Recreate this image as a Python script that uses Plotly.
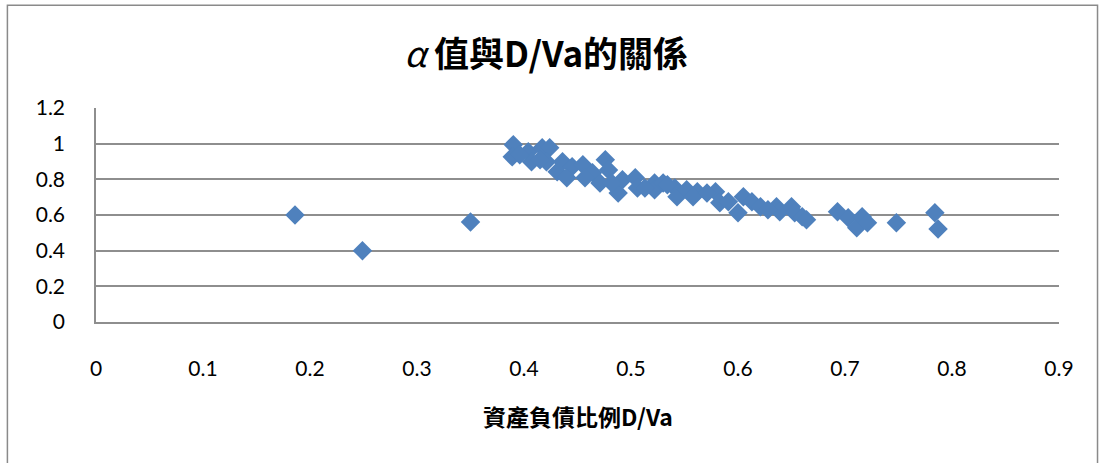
import plotly.graph_objects as go

# Debt ratio D/Va versus alpha
debt_ratio = [
    0.186, 0.249, 0.350, 0.390, 0.389, 0.404, 0.417, 0.424, 0.407, 0.421,
    0.431, 0.436, 0.445, 0.455, 0.464, 0.476, 0.479, 0.471, 0.488, 0.492,
    0.504, 0.506, 0.522, 0.522, 0.530, 0.541, 0.543, 0.552, 0.562, 0.558,
    0.579, 0.583, 0.591, 0.600, 0.605, 0.613, 0.621, 0.636, 0.639, 0.650,
    0.653, 0.660, 0.664, 0.693, 0.703, 0.711, 0.716, 0.721, 0.748, 0.784,
    0.787, 0.396, 0.415, 0.440, 0.457, 0.482, 0.513, 0.534, 0.571, 0.628,
]
alpha = [
    0.600, 0.400, 0.561, 0.994, 0.926, 0.955, 0.977, 0.977, 0.899, 0.899,
    0.842, 0.899, 0.870, 0.882, 0.837, 0.910, 0.853, 0.780, 0.724, 0.797,
    0.809, 0.752, 0.780, 0.741, 0.780, 0.752, 0.702, 0.741, 0.730, 0.702,
    0.730, 0.668, 0.674, 0.612, 0.702, 0.674, 0.646, 0.646, 0.618, 0.646,
    0.612, 0.590, 0.573, 0.618, 0.584, 0.528, 0.590, 0.556, 0.556, 0.612,
    0.522, 0.938, 0.910, 0.809, 0.809, 0.780, 0.752, 0.769, 0.724, 0.629,
]

x_ticks = [0, 0.1, 0.2, 0.3, 0.4, 0.5, 0.6, 0.7, 0.8, 0.9]
y_ticks = [0, 0.2, 0.4, 0.6, 0.8, 1, 1.2]

title_text = "<i>α</i> <b>值與D/Va的關係</b>"
x_title_text = "<b>資產負債比例D/Va</b>"

grid_color = "#8e8e8e"
tick_font = dict(family="Lato, Open Sans, sans-serif", size=21, color="#000000")

fig = go.Figure()
fig.add_trace(go.Scatter(
    x=debt_ratio,
    y=alpha,
    mode="markers",
    marker=dict(symbol="diamond", size=15, color="#4F81BD",
                line=dict(width=0)),
    showlegend=False,
    hoverinfo="x+y",
))

fig.update_layout(
    width=1099,
    height=463,
    margin=dict(l=96, r=40, t=108, b=141),
    paper_bgcolor="white",
    plot_bgcolor="white",
    title=dict(
        text=title_text,
        x=0.497, xref="container", xanchor="center",
        y=1 - 55 / 463, yref="container", yanchor="middle",
        font=dict(family="Noto Sans CJK TC, serif", size=35, color="#000000"),
    ),
    xaxis=dict(
        range=[0, 0.9],
        tickvals=x_ticks,
        ticktext=[f"{v:g}" for v in x_ticks],
        showgrid=False,
        zeroline=False,
        showline=True,
        linecolor=grid_color,
        linewidth=1.5,
        ticks="outside",
        ticklen=0,
        ticklabelstandoff=27,
        tickfont=tick_font,
        fixedrange=True,
    ),
    yaxis=dict(
        range=[0, 1.2],
        tickvals=y_ticks,
        ticktext=[f"{v:g}" for v in y_ticks],
        showgrid=True,
        gridcolor=grid_color,
        gridwidth=1.5,
        zeroline=False,
        showline=True,
        linecolor=grid_color,
        linewidth=1.5,
        ticks="outside",
        ticklen=0,
        ticklabelstandoff=25,
        tickfont=tick_font,
        fixedrange=True,
    ),
    annotations=[dict(
        text=x_title_text,
        xref="paper", yref="paper",
        x=0.5, y=-0.44,
        xanchor="center", yanchor="middle",
        showarrow=False,
        font=dict(family="Noto Sans CJK TC, serif", size=23, color="#000000"),
    )],
    shapes=[dict(
        type="rect",
        xref="paper", yref="paper",
        x0=-0.092, x1=1.04, y0=-0.75, y1=1.48,
        line=dict(color="#8a8a8a", width=1.5),
        fillcolor="rgba(0,0,0,0)",
        layer="below",
    )],
)

fig.write_html("out.html")
